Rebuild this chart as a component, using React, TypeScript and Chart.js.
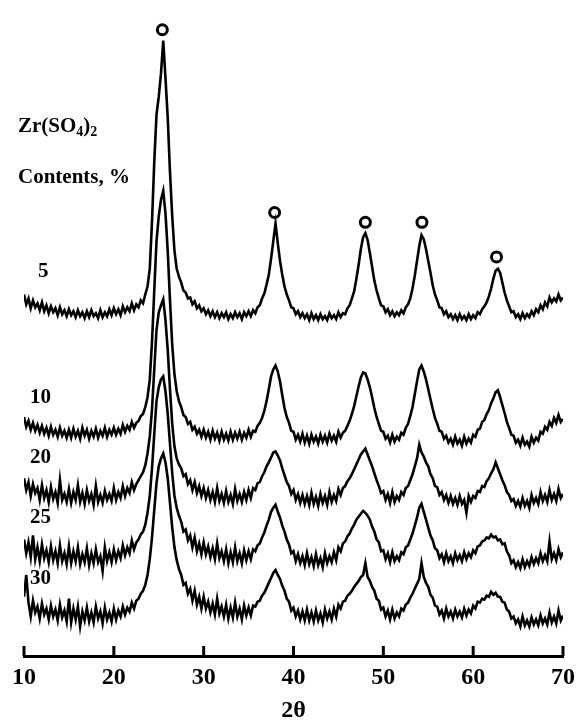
import React, { useEffect, useRef } from "react";
import { Chart, registerables } from "chart.js";

Chart.register(...registerables);

// 2θ positions (degrees), 0.25° steps
const twoTheta = [
  10, 10.25, 10.5, 10.75, 11, 11.25, 11.5, 11.75, 12, 12.25, 12.5, 12.75, 13, 13.25, 13.5, 13.75, 14, 14.25, 14.5, 14.75,
  15, 15.25, 15.5, 15.75, 16, 16.25, 16.5, 16.75, 17, 17.25, 17.5, 17.75, 18, 18.25, 18.5, 18.75, 19, 19.25, 19.5, 19.75,
  20, 20.25, 20.5, 20.75, 21, 21.25, 21.5, 21.75, 22, 22.25, 22.5, 22.75, 23, 23.25, 23.5, 23.75, 24, 24.25, 24.5, 24.75,
  25, 25.25, 25.5, 25.75, 26, 26.25, 26.5, 26.75, 27, 27.25, 27.5, 27.75, 28, 28.25, 28.5, 28.75, 29, 29.25, 29.5, 29.75,
  30, 30.25, 30.5, 30.75, 31, 31.25, 31.5, 31.75, 32, 32.25, 32.5, 32.75, 33, 33.25, 33.5, 33.75, 34, 34.25, 34.5, 34.75,
  35, 35.25, 35.5, 35.75, 36, 36.25, 36.5, 36.75, 37, 37.25, 37.5, 37.75, 38, 38.25, 38.5, 38.75, 39, 39.25, 39.5, 39.75,
  40, 40.25, 40.5, 40.75, 41, 41.25, 41.5, 41.75, 42, 42.25, 42.5, 42.75, 43, 43.25, 43.5, 43.75, 44, 44.25, 44.5, 44.75,
  45, 45.25, 45.5, 45.75, 46, 46.25, 46.5, 46.75, 47, 47.25, 47.5, 47.75, 48, 48.25, 48.5, 48.75, 49, 49.25, 49.5, 49.75,
  50, 50.25, 50.5, 50.75, 51, 51.25, 51.5, 51.75, 52, 52.25, 52.5, 52.75, 53, 53.25, 53.5, 53.75, 54, 54.25, 54.5, 54.75,
  55, 55.25, 55.5, 55.75, 56, 56.25, 56.5, 56.75, 57, 57.25, 57.5, 57.75, 58, 58.25, 58.5, 58.75, 59, 59.25, 59.5, 59.75,
  60, 60.25, 60.5, 60.75, 61, 61.25, 61.5, 61.75, 62, 62.25, 62.5, 62.75, 63, 63.25, 63.5, 63.75, 64, 64.25, 64.5, 64.75,
  65, 65.25, 65.5, 65.75, 66, 66.25, 66.5, 66.75, 67, 67.25, 67.5, 67.75, 68, 68.25, 68.5, 68.75, 69, 69.25, 69.5, 69.75,
  70,
];

// Intensities (arbitrary units; the curves are stacked with offsets)
const content5 = [
  366, 356, 362, 352, 360, 353, 357, 350, 358, 349, 355, 347, 354, 348, 352, 345, 353, 346, 350, 344,
  351, 345, 349, 343, 350, 344, 348, 342, 349, 343, 350, 344, 347, 342, 350, 343, 348, 344, 351, 345,
  352, 346, 351, 345, 354, 348, 353, 349, 357, 350, 356, 353, 360, 357, 366, 374, 392, 440, 500, 548,
  566, 590, 623, 585, 545, 490, 445, 410, 392, 384, 378, 370, 368, 362, 363, 356, 359, 352, 355, 349,
  352, 346, 350, 344, 349, 343, 348, 342, 347, 343, 348, 341, 346, 342, 348, 343, 347, 341, 348, 344,
  349, 344, 350, 347, 353, 355, 362, 367, 376, 386, 402, 420, 438, 418, 400, 386, 374, 366, 360, 353,
  352, 346, 349, 343, 347, 342, 346, 340, 347, 341, 345, 340, 346, 341, 344, 340, 347, 342, 345, 341,
  348, 343, 347, 346, 352, 355, 362, 369, 382, 396, 412, 424, 428, 421, 408, 394, 380, 370, 362, 355,
  354, 348, 351, 345, 349, 344, 348, 345, 350, 347, 353, 356, 362, 372, 385, 400, 415, 426, 422, 412,
  400, 388, 375, 366, 360, 353, 352, 346, 349, 343, 346, 341, 345, 340, 346, 341, 344, 340, 346, 341,
  345, 342, 348, 346, 351, 354, 358, 364, 372, 382, 390, 392, 388, 378, 368, 360, 354, 348, 349, 343,
  346, 341, 347, 342, 346, 343, 349, 345, 351, 348, 355, 351, 358, 354, 363, 358, 362, 359, 366, 360,
  363,
];

const content10 = [
  242, 232, 238, 229, 236, 228, 234, 226, 233, 225, 231, 223, 232, 224, 229, 222, 231, 223, 228, 221,
  229, 221, 230, 222, 228, 220, 231, 223, 229, 220, 228, 222, 230, 221, 228, 223, 231, 222, 229, 224,
  231, 224, 230, 225, 234, 227, 233, 229, 237, 231, 236, 238, 243, 245, 252, 262, 280, 318, 370, 420,
  445, 462, 471, 448, 410, 360, 315, 285, 268, 258, 252, 244, 242, 235, 237, 229, 232, 225, 229, 222,
  229, 221, 227, 219, 228, 220, 226, 218, 227, 219, 225, 218, 227, 219, 226, 220, 227, 219, 226, 221,
  229, 222, 228, 227, 233, 236, 241, 248, 258, 270, 283, 290, 294, 288, 278, 264, 251, 242, 236, 228,
  227, 219, 224, 217, 225, 216, 223, 215, 224, 217, 222, 215, 224, 217, 223, 216, 225, 218, 223, 217,
  227, 221, 226, 228, 233, 238, 245, 253, 263, 273, 282, 287, 286, 280, 272, 262, 251, 242, 235, 228,
  227, 220, 223, 216, 224, 217, 222, 219, 226, 224, 231, 235, 243, 252, 265, 278, 290, 294, 288, 280,
  270, 260, 250, 241, 235, 228, 227, 220, 223, 216, 220, 214, 222, 215, 219, 213, 222, 215, 220, 216,
  224, 222, 229, 230, 237, 239, 245, 249, 256, 261, 267, 269, 262, 254, 246, 237, 231, 224, 223, 216,
  219, 213, 221, 214, 217, 212, 222, 216, 221, 218, 227, 225, 232, 229, 237, 233, 241, 236, 244, 237,
  240,
];

const content20 = [
  180, 168, 176, 162, 174, 165, 170, 158, 173, 160, 168, 156, 171, 159, 166, 155, 178, 158, 164, 156,
  169, 155, 166, 158, 173, 156, 165, 154, 168, 157, 164, 153, 172, 156, 163, 155, 167, 158, 164, 157,
  170, 158, 166, 160, 172, 162, 170, 165, 176, 168, 174, 178, 182, 186, 193, 205, 222, 250, 290, 330,
  348, 355, 361, 340, 310, 270, 235, 212, 200, 194, 190, 182, 184, 174, 178, 168, 176, 165, 172, 162,
  170, 160, 168, 158, 166, 156, 170, 157, 164, 155, 167, 156, 163, 154, 169, 157, 164, 156, 166, 158,
  168, 160, 170, 168, 175, 176, 182, 186, 192, 196, 201, 206, 207, 203, 198, 190, 183, 176, 172, 164,
  168, 158, 164, 155, 163, 154, 162, 153, 165, 154, 161, 152, 164, 155, 162, 153, 166, 156, 163, 157,
  169, 163, 170, 172, 177, 180, 184, 189, 194, 199, 204, 207, 210, 204, 198, 192, 185, 178, 172, 165,
  167, 158, 164, 155, 166, 156, 162, 158, 166, 163, 170, 172, 178, 184, 192, 200, 214, 206, 202, 196,
  192, 184, 180, 172, 171, 163, 166, 158, 163, 155, 162, 154, 160, 153, 162, 154, 158, 145, 162, 156,
  162, 160, 167, 166, 172, 171, 177, 180, 185, 189, 196, 190, 184, 178, 173, 166, 163, 157, 159, 152,
  157, 151, 160, 152, 157, 150, 163, 155, 160, 154, 166, 157, 163, 156, 168, 158, 164, 157, 169, 160,
  164,
];

const content25 = [
  118, 104, 115, 100, 122, 98, 110, 96, 113, 99, 107, 95, 111, 97, 106, 94, 112, 96, 104, 93,
  111, 94, 106, 96, 110, 93, 103, 95, 109, 92, 104, 94, 108, 95, 101, 86, 110, 96, 105, 95,
  108, 97, 106, 99, 112, 102, 110, 104, 117, 108, 115, 118, 123, 126, 133, 145, 162, 190, 225, 258,
  272, 280, 283, 268, 245, 215, 185, 162, 150, 142, 136, 126, 128, 117, 122, 110, 120, 106, 114, 103,
  115, 103, 111, 100, 109, 98, 114, 99, 106, 96, 108, 94, 105, 95, 110, 96, 104, 94, 107, 97,
  106, 98, 108, 106, 112, 114, 120, 125, 132, 138, 146, 150, 153, 146, 140, 132, 126, 118, 113, 104,
  106, 96, 103, 94, 101, 92, 104, 93, 100, 91, 103, 92, 99, 90, 104, 94, 101, 95, 105, 97,
  110, 106, 114, 116, 121, 124, 129, 133, 138, 141, 144, 147, 145, 142, 138, 131, 126, 118, 115, 106,
  107, 98, 104, 95, 105, 96, 101, 97, 105, 103, 110, 112, 118, 124, 132, 140, 150, 154, 146, 138,
  130, 122, 117, 109, 107, 99, 103, 95, 104, 96, 101, 94, 104, 97, 102, 96, 105, 98, 104, 100,
  107, 104, 111, 112, 116, 117, 120, 119, 123, 120, 121, 117, 118, 113, 114, 106, 102, 94, 97, 90,
  95, 89, 98, 90, 96, 91, 100, 93, 99, 94, 104, 96, 102, 96, 116, 98, 104, 97, 108, 100,
  105,
];

const content30 = [
  60, 82, 54, 40, 56, 44, 50, 38, 53, 42, 48, 37, 51, 40, 47, 36, 52, 39, 46, 35,
  58, 34, 48, 37, 50, 30, 45, 36, 49, 35, 44, 34, 50, 38, 45, 33, 49, 37, 44, 35,
  48, 37, 46, 40, 50, 42, 49, 45, 54, 48, 56, 58, 63, 66, 72, 82, 98, 120, 148, 175,
  192, 200, 205, 196, 180, 155, 130, 110, 97, 88, 82, 72, 74, 63, 68, 56, 66, 52, 60, 48,
  60, 48, 55, 44, 53, 42, 58, 43, 50, 40, 52, 38, 49, 39, 54, 40, 48, 37, 51, 41,
  49, 41, 51, 50, 55, 56, 61, 64, 69, 74, 79, 84, 87, 82, 78, 71, 66, 58, 55, 46,
  49, 40, 46, 37, 45, 36, 47, 36, 44, 35, 46, 36, 43, 34, 47, 38, 45, 37, 48, 40,
  52, 48, 55, 56, 61, 63, 66, 70, 73, 76, 80, 82, 94, 80, 76, 70, 66, 58, 56, 47,
  49, 40, 46, 37, 47, 38, 44, 40, 48, 46, 52, 54, 59, 63, 68, 73, 78, 94, 80, 74,
  70, 62, 59, 51, 50, 42, 46, 38, 48, 40, 45, 38, 47, 40, 45, 39, 48, 41, 47, 43,
  51, 48, 55, 54, 58, 57, 61, 60, 65, 62, 64, 60, 60, 55, 54, 47, 45, 38, 40, 33,
  37, 30, 40, 31, 36, 30, 39, 32, 37, 31, 41, 33, 38, 32, 44, 34, 40, 33, 46, 36,
  41,
];

// Peak markers (open circles)
const markerX = [25.4, 37.9, 48.0, 54.3, 62.6];
const markerY = [634, 449, 439, 439, 404];

const seriesNames = ["5", "10", "20", "25", "30"];
const seriesData = [content5, content10, content20, content25, content30];

const FONT = '"Liberation Serif", "Times New Roman", serif';

export default function App() {
  const ref = useRef<HTMLCanvasElement | null>(null);

  useEffect(() => {
    const canvas = ref.current;
    if (!canvas) return;

    const overlay = {
      id: "overlay",
      afterDraw(chart: any) {
        const c = chart.ctx;
        const xs = chart.scales.x;
        const bottom = chart.chartArea.bottom;
        c.save();
        // upward tick marks
        c.strokeStyle = "#000";
        c.lineWidth = 3;
        xs.ticks.forEach((t: any) => {
          const px = xs.getPixelForValue(t.value);
          c.beginPath();
          c.moveTo(px, bottom);
          c.lineTo(px, bottom - 10);
          c.stroke();
        });
        // texts
        c.fillStyle = "#000";
        c.textBaseline = "alphabetic";
        c.textAlign = "left";
        const big = `bold 21px ${FONT}`;
        const sub = `bold 14px ${FONT}`;
        let x = 18;
        const yb = 132;
        c.font = big;
        c.fillText("Zr(SO", x, yb);
        x += c.measureText("Zr(SO").width;
        c.font = sub;
        c.fillText("4", x, yb + 4);
        x += c.measureText("4").width;
        c.font = big;
        c.fillText(")", x, yb);
        x += c.measureText(")").width;
        c.font = sub;
        c.fillText("2", x, yb + 4);
        c.font = big;
        c.fillText("Contents, %", 18, 183);
        // series labels
        const labelPos = [
          [38, 277],
          [30, 403],
          [30, 463],
          [30, 523],
          [30, 584],
        ];
        seriesNames.forEach((n, i) => {
          c.fillText(n, labelPos[i][0], labelPos[i][1]);
        });
        c.restore();
      },
    };

    const datasets: any[] = seriesData.map((arr, i) => ({
      label: seriesNames[i],
      data: twoTheta.map((x, j) => ({ x, y: arr[j] })),
      borderColor: "#000",
      borderWidth: 2.6,
      pointRadius: 0,
      tension: 0,
      fill: false,
    }));
    datasets.push({
      label: "peaks",
      data: markerX.map((x, j) => ({ x, y: markerY[j] })),
      showLine: false,
      pointRadius: 5,
      pointBorderWidth: 3,
      pointBackgroundColor: "#fff",
      pointBorderColor: "#000",
    });

    const chart = new Chart(canvas, {
      type: "line",
      data: { datasets },
      options: {
        animation: false,
        responsive: false,
        devicePixelRatio: 1,
        layout: { padding: { left: 24, right: 13, top: 0, bottom: 0 } },
        plugins: {
          legend: { display: false },
          tooltip: { enabled: false },
          title: { display: false },
        },
        scales: {
          x: {
            type: "linear",
            min: 10,
            max: 70,
            afterFit: (scale: any) => {
              scale.height = 67;
              scale.paddingLeft = 0;
              scale.paddingRight = 0;
            },
            ticks: {
              stepSize: 10,
              color: "#000",
              padding: 10,
              maxRotation: 0,
              font: { family: FONT, size: 24, weight: "bold", lineHeight: 1 },
            },
            grid: { drawOnChartArea: false, drawTicks: false },
            border: { display: true, color: "#000", width: 3 },
            title: {
              display: true,
              text: "2θ",
              color: "#000",
              font: { family: FONT, size: 24, weight: "bold", lineHeight: 1 },
              padding: { top: 0, bottom: 0 },
            },
          },
          y: { display: false, min: 0, max: 656 },
        },
      },
      plugins: [overlay],
    });

    return () => chart.destroy();
  }, []);

  return (
    <div style={{ position: "absolute", left: 0, top: 0, width: 576, height: 723, background: "#fff" }}>
      <canvas ref={ref} width={576} height={723} style={{ display: "block", width: 576, height: 723 }} />
    </div>
  );
}
